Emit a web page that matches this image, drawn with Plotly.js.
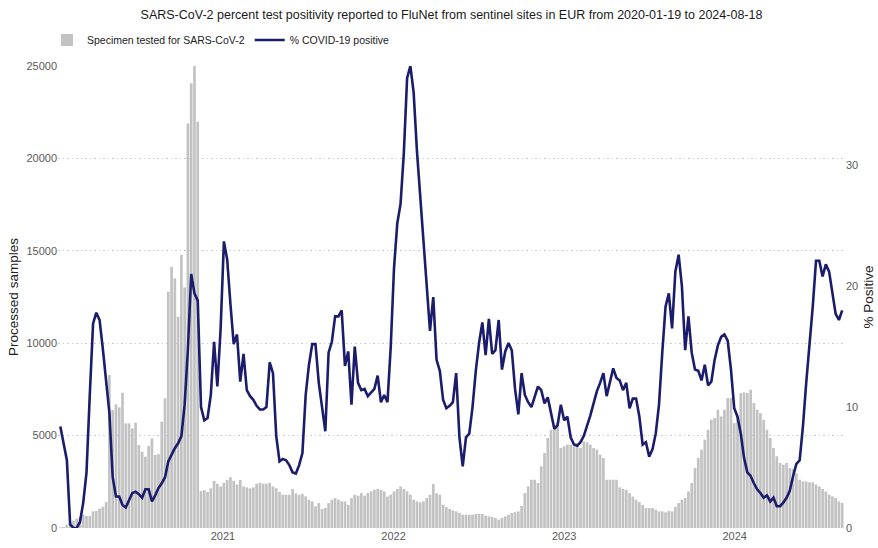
<!DOCTYPE html>
<html>
<head>
<meta charset="utf-8">
<script src="https://cdn.plot.ly/plotly-3.0.1.min.js"></script>
<style>html,body{margin:0;padding:0;background:#fff;}#chart{width:878px;height:548px;}</style>
</head>
<body>
<div id="chart"></div>
<script>
// Weekly reporting periods (week-start dates), first and last week
const startWeek = '2020-01-19';
const weekCount = 240; // 2020-01-19 .. 2024-08-18

// Specimens tested for SARS-CoV-2 per week (left axis)
const specimens = [
  30, 60, 180, 300, 400, 500, 600, 720, 650, 650,
  900, 920, 1050, 1150, 1400, 8280, 6380, 6690, 6530, 7320,
  5660, 5660, 5390, 5700, 4490, 4130, 3860, 4440, 4850, 3950,
  4000, 5750, 7020, 12790, 14140, 13510, 11430, 14770, 13020, 21890,
  24060, 25000, 21980, 2000, 2050, 1950, 2150, 2550, 2400, 2250,
  2450, 2600, 2750, 2550, 2350, 2600, 2250, 2200, 2150, 2200,
  2400, 2450, 2400, 2400, 2450, 2250, 2150, 1950, 1800, 1800,
  1800, 2100, 1870, 1800, 1850, 1710, 1530, 1440, 1170, 1350,
  1030, 1080, 1350, 1530, 1620, 1530, 1440, 1440, 1260, 1620,
  1800, 1750, 1890, 1750, 1890, 1980, 2070, 2110, 2070, 1980,
  1710, 1800, 1980, 2110, 2250, 2110, 1980, 1800, 1530, 1440,
  1390, 1440, 1620, 1800, 2380, 1880, 1800, 1260, 1130, 1030,
  950, 900, 810, 720, 720, 720, 720, 760, 760, 760,
  670, 630, 600, 540, 450, 540, 630, 720, 810, 850,
  900, 1200, 1890, 2250, 2610, 2610, 2430, 3340, 4060, 4870,
  5320, 5410, 5680, 4330, 4420, 4510, 4510, 4420, 4600, 4330,
  4690, 4640, 4510, 4330, 4240, 3970, 3790, 2610, 2610, 2610,
  2610, 2200, 2110, 2070, 1890, 1700, 1530, 1400, 1250, 1080,
  1080, 1080, 990, 900, 900, 850, 920, 900, 1140, 1350,
  1530, 1620, 1980, 2430, 3250, 3790, 4240, 4780, 5320, 5860,
  5950, 6400, 6040, 6400, 7030, 7030, 5680, 6040, 7300, 7340,
  7300, 7480, 6760, 6400, 6220, 5860, 5320, 4870, 4330, 3880,
  3520, 3430, 3520, 3250, 3190, 2970, 2610, 2520, 2520, 2470,
  2470, 2360, 2250, 2110, 1980, 1800, 1710, 1620, 1440, 1350
];

// % COVID-19 positive per week (right axis)
const positivity = [
  8.4, 7.0, 5.6, 0.3, 0, 0, 0.5, 2.1, 4.6, 11.0,
  16.9, 17.8, 17.2, 14.8, 12.4, 9.5, 4.2, 2.6, 2.6, 1.9,
  1.7, 2.3, 2.9, 3.0, 2.8, 2.5, 3.2, 3.2, 2.2, 2.7,
  3.3, 3.7, 4.2, 5.5, 6.1, 6.6, 7.0, 7.6, 10.2, 14.8,
  21.0, 19.4, 18.8, 10.0, 8.9, 9.1, 11.0, 15.4, 11.7, 16.5,
  23.7, 22.2, 18.5, 15.2, 16.0, 12.1, 14.4, 11.4, 10.9, 10.6,
  10.1, 9.8, 9.8, 10.0, 13.7, 12.8, 7.6, 5.5, 5.7, 5.6,
  5.2, 4.6, 4.5, 5.2, 6.2, 11.0, 13.5, 15.2, 15.2, 12.0,
  10.0, 8.0, 14.5, 15.4, 17.5, 17.5, 18.0, 13.4, 14.6, 10.2,
  15.0, 12.0, 11.4, 11.5, 10.9, 11.2, 11.5, 12.6, 10.4, 11.0,
  10.4, 15.0, 21.5, 25.2, 26.8, 31.0, 37.2, 38.2, 36.0, 31.2,
  27.5, 24.0, 20.5, 16.3, 19.1, 13.9, 13.0, 10.6, 9.9, 10.1,
  10.4, 12.8, 7.5, 5.1, 7.5, 7.8, 10.0, 13.0, 15.3, 17.0,
  14.3, 17.3, 14.4, 14.7, 17.2, 13.1, 14.6, 15.3, 14.7, 11.5,
  9.4, 12.8, 11.0, 10.4, 10.0, 10.8, 11.7, 11.4, 10.3, 10.8,
  9.6, 8.2, 8.5, 10.2, 8.9, 9.2, 7.5, 6.9, 6.8, 7.1,
  7.6, 8.4, 9.3, 10.3, 11.3, 12.0, 12.8, 10.9, 12.2, 13.2,
  12.4, 12.2, 11.4, 12.0, 9.9, 10.7, 10.7, 9.2, 6.9, 7.1,
  5.9, 6.5, 7.8, 10.2, 14.5, 18.3, 19.4, 16.5, 21.2, 22.6,
  20.0, 14.7, 17.5, 14.5, 13.1, 13.0, 12.2, 13.5, 11.8, 12.1,
  13.9, 15.1, 15.8, 16.0, 15.5, 13.1, 9.9, 9.2, 7.8, 5.8,
  4.6, 4.3, 3.7, 3.2, 2.9, 2.5, 2.7, 2.2, 2.5, 1.8,
  1.8, 2.1, 2.5, 3.1, 4.3, 5.3, 5.6, 8.4, 12.0, 15.0,
  18.3, 22.1, 22.1, 20.8, 21.8, 21.2, 19.4, 17.7, 17.2, 18.0
];

// Axis ticks
const xTickVals = ['2021-01-01', '2022-01-01', '2023-01-01', '2024-01-01'];
const xTickText = ['2021', '2022', '2023', '2024'];
const leftTicks = [0, 5000, 10000, 15000, 20000, 25000];
const leftTickText = ['0', '5000', '10000', '15000', '20000', '25000'];
const rightTicks = [0, 10, 20, 30];
const rightTickText = ['0', '10', '20', '30'];

const titleText = 'SARS-CoV-2 percent test positivity reported to FluNet from sentinel sites in EUR from 2020-01-19 to 2024-08-18';
const barName = 'Specimen tested for SARS-CoV-2';
const lineName = '% COVID-19 positive';

// Build weekly date categories
const weeks = [];
const d0 = new Date(startWeek + 'T00:00:00Z');
for (let i = 0; i < weekCount; i++) {
  const d = new Date(d0.getTime() + i * 7 * 86400000);
  weeks.push(d.toISOString().slice(0, 10));
}

const FONT = 'Liberation Sans, Arial, Helvetica, sans-serif';
const TICK = {family: FONT, size: 11, color: '#5a5a5a'};

const traces = [
  {
    type: 'bar', name: barName, x: weeks, y: specimens,
    marker: {color: '#c2c2c2', line: {width: 0}},
    yaxis: 'y', hoverinfo: 'skip'
  },
  {
    type: 'scatter', mode: 'lines', name: lineName, x: weeks, y: positivity,
    line: {color: '#1c1c6c', width: 2.6}, yaxis: 'y2', hoverinfo: 'skip'
  }
];

const layout = {
  width: 878, height: 548,
  margin: {l: 58, r: 33, t: 66, b: 20, pad: 0},
  paper_bgcolor: '#ffffff', plot_bgcolor: '#ffffff',
  font: {family: FONT, size: 11, color: '#5a5a5a'},
  bargap: 0.18,
  showlegend: true,
  title: {
    text: titleText, xref: 'paper', x: 0.5, xanchor: 'center',
    yref: 'container', y: 1 - 15 / 548, yanchor: 'middle',
    font: {family: FONT, size: 12.5, color: '#1a1a1a'}
  },
  legend: {
    orientation: 'h', xref: 'paper', x: -0.014, xanchor: 'left',
    yref: 'paper', y: 1 + 26 / 462, yanchor: 'middle',
    font: {family: FONT, size: 10.5, color: '#222222'},
    bgcolor: 'rgba(0,0,0,0)', traceorder: 'normal', itemclick: false
  },
  xaxis: {
    type: 'date', range: ['2020-01-14', '2024-08-24'],
    tickmode: 'array', tickvals: xTickVals, ticktext: xTickText,
    showgrid: false, zeroline: false, showline: false, ticks: '',
    tickfont: TICK, automargin: false, fixedrange: true
  },
  yaxis: {
    range: [0, 25000], tickmode: 'array', tickvals: leftTicks, ticktext: leftTickText,
    showgrid: true, gridcolor: '#cccccc', gridwidth: 1, griddash: '1.5px,3px',
    zeroline: false, showline: false, ticks: '',
    tickfont: TICK,
    title: {text: 'Processed samples', font: {family: FONT, size: 13.5, color: '#222222'}, standoff: 4},
    automargin: false, fixedrange: true
  },
  yaxis2: {
    overlaying: 'y', side: 'right', range: [0, 38.2],
    tickmode: 'array', tickvals: rightTicks, ticktext: rightTickText,
    showgrid: false, zeroline: false, showline: false, ticks: '',
    tickfont: TICK,
    title: {text: '% Positive', font: {family: FONT, size: 13.5, color: '#222222'}, standoff: 6},
    automargin: false, fixedrange: true
  }
};

Plotly.newPlot('chart', traces, layout, {displayModeBar: false, staticPlot: true});
</script>
</body>
</html>
